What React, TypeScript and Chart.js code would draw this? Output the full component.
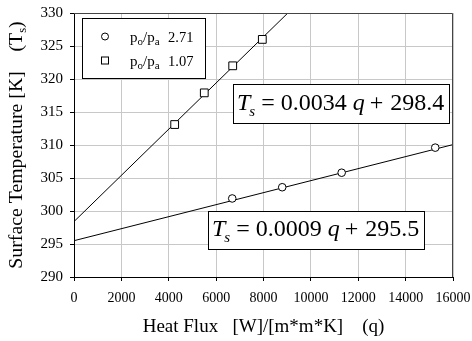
import React, { useEffect, useRef } from "react";
import { Chart, registerables } from "chart.js";

Chart.register(...registerables);

// ---- data ----
const heatFluxRange = [0, 16000];
const heatFluxStep = 2000;
const tempRange = [290, 330];
const tempStep = 5;

// p_o/p_a = 2.71 (circles)
const heatFluxLow = [6680, 8790, 11300, 15250];
const tempLow = [301.9, 303.6, 305.8, 309.6];
// p_o/p_a = 1.07 (squares)
const heatFluxHigh = [4250, 5500, 6700, 7950];
const tempHigh = [313.1, 317.9, 322.0, 326.0];

const seriesRatios = ["2.71", "1.07"];
// trend lines as drawn  T_s = a q + b
const fitSlopes = [0.00091, 0.0035];
const fitIntercepts = [295.5, 298.4];
// equation labels as printed
const eqSlopeLabels = ["0.0009", "0.0034"];
const eqInterceptLabels = ["295.5", "298.4"];

const xTitle = "Heat Flux   [W]/[m*m*K]    (q)";
const yTitle = "Surface Temperature [K]    (";

const FAMILY = '"Liberation Serif", "Times New Roman", serif';
const f = (size: number, italic = false) => `${italic ? "italic " : ""}${size}px ${FAMILY}`;

type Seg = { t: string; size: number; italic?: boolean; dy?: number; gap?: number };

function segsWidth(ctx: CanvasRenderingContext2D, segs: Seg[]) {
  let w = 0;
  for (const s of segs) {
    ctx.font = f(s.size, s.italic);
    w += (s.gap || 0) + ctx.measureText(s.t).width;
  }
  return w;
}

function drawSegs(ctx: CanvasRenderingContext2D, segs: Seg[], x: number, y: number) {
  let cx = x;
  ctx.textAlign = "left";
  ctx.textBaseline = "alphabetic";
  for (const s of segs) {
    cx += s.gap || 0;
    ctx.font = f(s.size, s.italic);
    ctx.fillText(s.t, cx, y + (s.dy || 0));
    cx += ctx.measureText(s.t).width;
  }
  return cx;
}

function eqSegs(a: string, b: string): Seg[] {
  return [
    { t: "T", size: 24, italic: true },
    { t: "s", size: 15, italic: true, dy: 6, gap: -1 },
    { t: "=", size: 24, gap: 6 },
    { t: a, size: 24, gap: 6 },
    { t: "q", size: 24, italic: true, gap: 6 },
    { t: "+", size: 24, gap: 5 },
    { t: b, size: 24, gap: 7 },
  ];
}

const overlayPlugin = {
  id: "overlay",
  afterDraw(chart: any) {
    const ctx: CanvasRenderingContext2D = chart.ctx;
    const a = chart.chartArea;
    ctx.save();
    // top & right frame
    ctx.strokeStyle = "#444";
    ctx.lineWidth = 1;
    ctx.beginPath();
    ctx.moveTo(a.left, Math.round(a.top) + 0.5);
    ctx.lineTo(Math.round(a.right) - 0.5, Math.round(a.top) + 0.5);
    ctx.lineTo(Math.round(a.right) - 0.5, a.bottom);
    ctx.stroke();

    ctx.fillStyle = "#000";
    ctx.strokeStyle = "#000";

    // legend
    const lx = a.left + 8, ly = a.top + 5, lw = 123, lh = 60;
    ctx.fillStyle = "#fff";
    ctx.fillRect(lx + 0.5, ly + 0.5, lw, lh);
    ctx.strokeRect(lx + 0.5, ly + 0.5, lw, lh);
    const rows = [ly + 18.5, ly + 42.5];
    ctx.beginPath();
    ctx.arc(lx + 23, rows[0], 3.5, 0, Math.PI * 2);
    ctx.fill();
    ctx.stroke();
    ctx.fillRect(lx + 19.5, rows[1] - 3.5, 7, 7);
    ctx.strokeRect(lx + 19.5, rows[1] - 3.5, 7, 7);
    ctx.fillStyle = "#000";
    seriesRatios.forEach((r, i) => {
      const base = rows[i] + 5;
      drawSegs(ctx, [
        { t: "p", size: 15 },
        { t: "o", size: 11, dy: 3 },
        { t: "/p", size: 15 },
        { t: "a", size: 11, dy: 3 },
      ], lx + 48, base);
      drawSegs(ctx, [{ t: r, size: 14.5 }], lx + 86, base);
    });

    // equation boxes
    const boxes = [
      { idx: 1, x: 233, y: 84, w: 216, h: 39 },
      { idx: 0, x: 208, y: 211, w: 216, h: 38 },
    ];
    for (const bx of boxes) {
      ctx.fillStyle = "#fff";
      ctx.fillRect(bx.x + 0.5, bx.y + 0.5, bx.w, bx.h);
      ctx.strokeRect(bx.x + 0.5, bx.y + 0.5, bx.w, bx.h);
      ctx.fillStyle = "#000";
      drawSegs(ctx, eqSegs(eqSlopeLabels[bx.idx], eqInterceptLabels[bx.idx]), bx.x + 4, bx.y + bx.h - 13.5);
    }

    // x title
    const xs: Seg[] = [{ t: xTitle, size: 19 }];
    const xw = segsWidth(ctx, xs);
    drawSegs(ctx, xs, (a.left + a.right) / 2 - xw / 2, 332);

    // y title
    const ys: Seg[] = [
      { t: yTitle, size: 19.8 },
      { t: "T", size: 19.8 },
      { t: "s", size: 12.5, dy: 4 },
      { t: ")", size: 19.8 },
    ];
    const yw = segsWidth(ctx, ys);
    ctx.translate(22, (a.top + a.bottom) / 2);
    ctx.rotate(-Math.PI / 2);
    drawSegs(ctx, ys, -yw / 2, 0);
    ctx.restore();
  },
};

export default function App() {
  const ref = useRef<HTMLCanvasElement>(null);
  useEffect(() => {
    if (!ref.current) return;
    const fitLine = (i: number) =>
      heatFluxRange.map((q) => ({ x: q, y: fitSlopes[i] * q + fitIntercepts[i] }));
    const chart = new Chart(ref.current, {
      type: "scatter",
      data: {
        datasets: [
          {
            label: "po/pa " + seriesRatios[0],
            data: heatFluxLow.map((q, i) => ({ x: q, y: tempLow[i] })),
            pointStyle: "circle",
            pointRadius: 3.8,
            pointBackgroundColor: "#fff",
            pointBorderColor: "#000",
            pointBorderWidth: 1,
            showLine: false,
            order: 0,
          },
          {
            label: "po/pa " + seriesRatios[1],
            data: heatFluxHigh.map((q, i) => ({ x: q, y: tempHigh[i] })),
            pointStyle: "rect",
            pointRadius: 5.5,
            pointBackgroundColor: "#fff",
            pointBorderColor: "#000",
            pointBorderWidth: 1,
            showLine: false,
            order: 0,
          },
          {
            label: "fit low",
            data: fitLine(0),
            showLine: true,
            borderColor: "#000",
            borderWidth: 1,
            pointRadius: 0,
            order: 1,
          },
          {
            label: "fit high",
            data: fitLine(1),
            showLine: true,
            borderColor: "#000",
            borderWidth: 1,
            pointRadius: 0,
            order: 1,
          },
        ],
      },
      options: {
        responsive: false,
        animation: false,
        events: [],
        layout: { padding: { top: 13, right: 19, left: 0, bottom: 0 } },
        plugins: { legend: { display: false }, tooltip: { enabled: false } },
        scales: {
          x: {
            type: "linear",
            min: heatFluxRange[0],
            max: heatFluxRange[1],
            ticks: {
              stepSize: heatFluxStep,
              color: "#000",
              font: { family: FAMILY, size: 14 },
              padding: 9,
              maxRotation: 0,
              autoSkip: false,
              callback: (v: any) => String(v),
            },
            grid: { color: "#c8c8c8", tickColor: "#000", tickLength: 4, lineWidth: 1 },
            border: { color: "#000", width: 1 },
            afterFit: (s: any) => {
              s.height = 64;
              s.paddingLeft = 0;
              s.paddingRight = 0;
              s.paddingTop = 0;
              s.paddingBottom = 0;
            },
          },
          y: {
            type: "linear",
            min: tempRange[0],
            max: tempRange[1],
            ticks: {
              stepSize: tempStep,
              color: "#000",
              font: { family: FAMILY, size: 15 },
              padding: 7,
              callback: (v: any) => String(v),
            },
            grid: { color: "#c8c8c8", tickColor: "#000", tickLength: 4, lineWidth: 1 },
            border: { color: "#000", width: 1 },
            afterFit: (s: any) => {
              s.width = 74;
              s.paddingLeft = 0;
              s.paddingRight = 0;
              s.paddingTop = 0;
              s.paddingBottom = 0;
            },
          },
        },
      },
      plugins: [overlayPlugin],
    });
    return () => chart.destroy();
  }, []);
  return (
    <div style={{ position: "absolute", left: 0, top: 0, width: 472, height: 341, background: "#fff" }}>
      <canvas ref={ref} width={472} height={341} style={{ display: "block" }} />
    </div>
  );
}
